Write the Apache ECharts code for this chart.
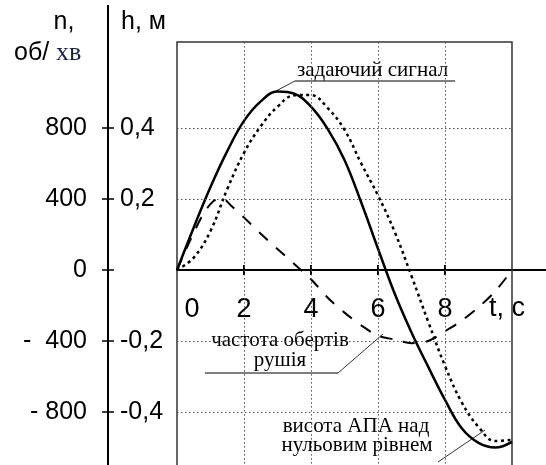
<!DOCTYPE html>
<html>
<head>
<meta charset="utf-8">
<script src="https://cdn.jsdelivr.net/npm/echarts@6/dist/echarts.min.js"></script>
<style>html,body{margin:0;padding:0;background:#fff}#c{width:546px;height:465px}</style>
</head>
<body>
<div id="c"></div>
<script>
// ---- data ----
const tH = [0,0.5,1,1.5,2,2.5,3,3.5,4,4.5,5,5.5,6,6.5,7,7.5,8,8.5,9,9.5,10];
const hSetpoint = [0,0.12,0.234,0.335,0.42,0.475,0.503,0.497,0.46,0.397,0.31,0.19,0.06,-0.067,-0.176,-0.273,-0.366,-0.446,-0.487,-0.5,-0.484];
const hActual = [0,0.035,0.11,0.228,0.33,0.405,0.46,0.492,0.493,0.456,0.395,0.3,0.21,0.107,-0.017,-0.146,-0.27,-0.373,-0.442,-0.482,-0.478];
const tN = [0,0.4,0.8,1.1,1.35,1.6,2,2.5,3,3.5,4,4.5,5,5.5,6,6.5,7,7.5,8,8.5,9,9.5,10];
const nValues = [0,170,320,390,405,365,296,204,118,34,-52,-156,-240,-312,-370,-392,-412,-400,-345,-285,-210,-120,0];
const xTickValues = [0,2,4,6,8];
const xMinorTicks = [2,4,6,8];
const nTickValues = [800,400,0,-400,-800];
const nTickLabels = ['800','400','0','-  400','- 800'];
const hTickValues = [0.4,0.2,0,-0.2,-0.4];
const hTickLabels = ['0,4','0,2','','-0,2','-0,4'];
const gridT = [2,4,6,8];
const gridH = [0.4,0.2,-0.2,-0.4];

// ---- layout ----
const H_MIN = -0.6, H_MAX = 0.7437, BOX_TOP = 0.642, T_MAX = 11.015, T_END = 10, PX_PER_M = 355;
const SANS = 'Liberation Sans, Arial, sans-serif';
const SERIF = 'Liberation Serif, Times New Roman, serif';

const zip = (a, b) => a.map((v, i) => [v, b[i]]);
const lbl = (vals, labels) => v => { const i = vals.findIndex(x => Math.abs(x - v) < 1e-9); return i >= 0 ? labels[i] : ''; };

const gridLines = gridT.map(t => [{coord:[t, BOX_TOP]},{coord:[t, H_MIN]}])
  .concat(gridH.map(h => [{coord:[0, h]},{coord:[T_END, h]}]));

const chart = echarts.init(document.getElementById('c'), null, {renderer:'canvas'});
chart.setOption({
  animation: false,
  backgroundColor: '#fff',
  grid: [
    {left: 177, right: 0, top: 6, height: (H_MAX - H_MIN) * PX_PER_M, containLabel: false, outerBoundsMode: 'none'},
    // upper half grid: its bottom edge is the zero line, used for the t-axis labels / lower ticks
    {left: 177, right: 0, top: 6, height: H_MAX * PX_PER_M, containLabel: false, outerBoundsMode: 'none'}
  ],
  xAxis: [{
    type: 'value', gridIndex: 0, min: 0, max: T_MAX, position: 'top',
    axisLine: {onZero: true, lineStyle: {color: '#000', width: 2}},
    axisTick: {customValues: xMinorTicks, length: 5, lineStyle: {color: '#000', width: 2}},
    splitLine: {show: false}, axisLabel: {show: false}
  }, {
    type: 'value', gridIndex: 1, min: 0, max: T_MAX, position: 'bottom',
    axisLine: {show: false, onZero: false},
    axisTick: {show: true, customValues: xMinorTicks, length: 5, lineStyle: {color: '#000', width: 2}},
    splitLine: {show: false},
    axisLabel: {customValues: xTickValues, alignMinLabel: 'left', hideOverlap: false, margin: 26,
      color: '#000', fontSize: 27, fontFamily: SANS, formatter: v => v === 0 ? ' 0' : String(v)}
  }],
  yAxis: [{
    type: 'value', gridIndex: 0, min: H_MIN * 2000, max: H_MAX * 2000, position: 'left', offset: 69,
    axisLine: {show: true, onZero: false, lineStyle: {color: '#000', width: 2}},
    axisTick: {customValues: nTickValues, length: 6, lineStyle: {color: '#000', width: 1.5}},
    splitLine: {show: false},
    axisLabel: {customValues: nTickValues, formatter: lbl(nTickValues, nTickLabels), margin: 21,
      color: '#000', fontSize: 25, fontFamily: SANS}
  }, {
    type: 'value', gridIndex: 0, min: H_MIN, max: H_MAX, position: 'left', offset: 69,
    axisLine: {show: true, onZero: false, lineStyle: {color: '#000', width: 2}},
    axisTick: {customValues: hTickValues, inside: true, length: 6, lineStyle: {color: '#000', width: 1.5}},
    splitLine: {show: false},
    axisLabel: {customValues: hTickValues, inside: true, formatter: lbl(hTickValues, hTickLabels), margin: 12,
      color: '#000', fontSize: 25, fontFamily: SANS}
  }, {
    type: 'value', gridIndex: 1, min: 0, max: H_MAX, show: false
  }],
  series: [{
    name: 'задаючий сигнал', type: 'line', xAxisIndex: 0, yAxisIndex: 1,
    data: zip(tH, hSetpoint), smooth: 0.4, showSymbol: false,
    lineStyle: {color: '#000', width: 2.5, type: 'solid'},
    markLine: {silent: true, symbol: ['none','none'], label: {show: false},
      lineStyle: {color: '#555', width: 1, type: [1.5, 2.5]}, data: gridLines},
    markArea: {silent: true, itemStyle: {color: 'rgba(0,0,0,0)', borderColor: '#333', borderWidth: 1.5},
      data: [[{coord: [0, BOX_TOP]}, {coord: [T_END, H_MIN]}]]},
    z: 3
  }, {
    name: 'висота АПА над нульовим рівнем', type: 'line', xAxisIndex: 0, yAxisIndex: 1,
    data: zip(tH, hActual), smooth: 0.4, showSymbol: false,
    lineStyle: {color: '#000', width: 2.5, type: [3, 3.5]}, z: 3
  }, {
    name: 'частота обертів рушія', type: 'line', xAxisIndex: 0, yAxisIndex: 0,
    data: zip(tN, nValues), smooth: 0.3, showSymbol: false,
    lineStyle: {color: '#000', width: 2, type: [12, 11]}, z: 3
  }],
  graphic: [
    {type: 'text', style: {x: 64, y: 22, text: 'n,', fontSize: 25, fontFamily: SANS, fill: '#000', textAlign: 'center', textVerticalAlign: 'middle'}},
    {type: 'text', style: {x: 14, y: 53, text: '{a|об/ }{b|хв}', fontSize: 25, fontFamily: SANS, fill: '#000', textVerticalAlign: 'middle',
      rich: {a: {fontSize: 25, fontFamily: SANS, fill: '#000'}, b: {fontSize: 26, fontFamily: SERIF, fill: '#17224a'}}}},
    {type: 'text', style: {x: 121, y: 22, text: 'h, м', fontSize: 25, fontFamily: SANS, fill: '#000', textVerticalAlign: 'middle'}},
    {type: 'text', style: {x: 489, y: 309, text: 't, c', fontSize: 27, fontFamily: SANS, fill: '#000', textVerticalAlign: 'middle'}},
    {type: 'text', style: {x: 297, y: 70, text: 'задаючий сигнал', fontSize: 21, fontFamily: SERIF, fill: '#000', textVerticalAlign: 'middle'}},
    {type: 'line', shape: {x1: 295, y1: 81, x2: 455, y2: 81}, style: {stroke: '#000', lineWidth: 1}},
    {type: 'line', shape: {x1: 295, y1: 81, x2: 274, y2: 92}, style: {stroke: '#000', lineWidth: 0.8}},
    {type: 'text', style: {x: 280, y: 340, text: 'частота обертів', fontSize: 21, fontFamily: SERIF, fill: '#000', textAlign: 'center', textVerticalAlign: 'middle'}},
    {type: 'text', style: {x: 280, y: 360, text: 'рушія', fontSize: 21, fontFamily: SERIF, fill: '#000', textAlign: 'center', textVerticalAlign: 'middle'}},
    {type: 'line', shape: {x1: 205, y1: 373, x2: 338, y2: 373}, style: {stroke: '#000', lineWidth: 1}},
    {type: 'line', shape: {x1: 338, y1: 373, x2: 383, y2: 334}, style: {stroke: '#000', lineWidth: 0.8}},
    {type: 'text', style: {x: 356, y: 426, text: 'висота АПА над', fontSize: 21, fontFamily: SERIF, fill: '#000', textAlign: 'center', textVerticalAlign: 'middle'}},
    {type: 'text', style: {x: 357, y: 445, text: 'нульовим рівнем', fontSize: 21, fontFamily: SERIF, fill: '#000', textAlign: 'center', textVerticalAlign: 'middle'}},
    {type: 'line', shape: {x1: 438, y1: 462, x2: 485, y2: 430}, style: {stroke: '#000', lineWidth: 0.8}}
  ]
});
</script>
</body>
</html>
